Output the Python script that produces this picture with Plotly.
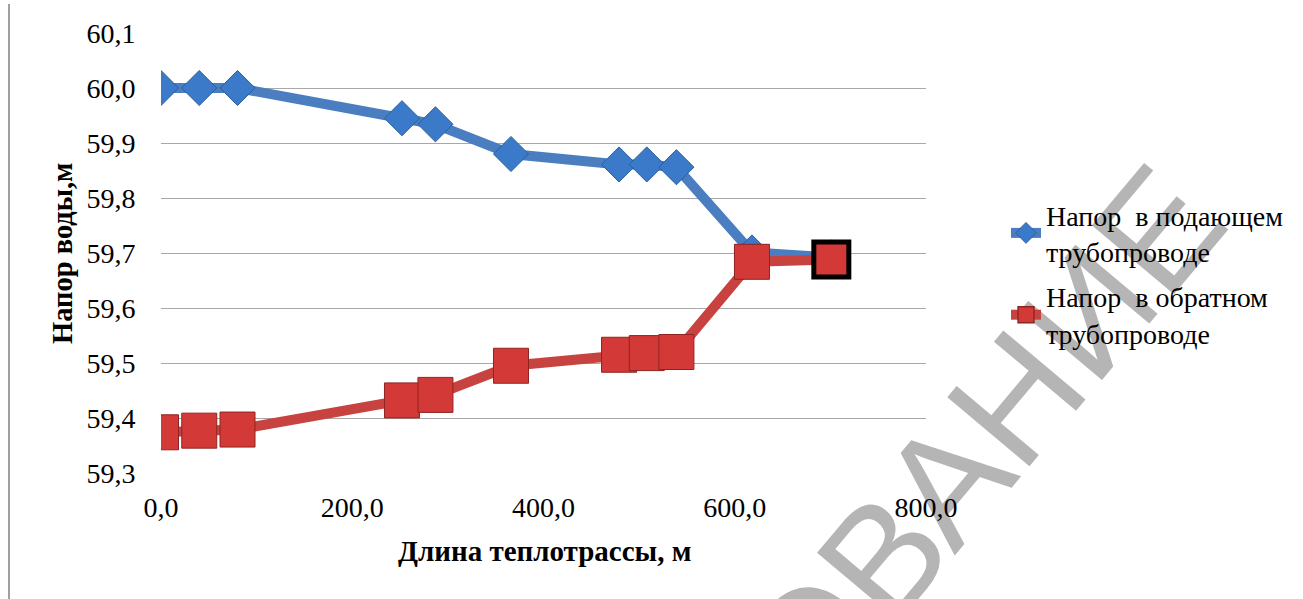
import plotly.graph_objects as go

# Data
length_m = [0, 40, 80, 252, 287, 366, 479, 508, 539, 618, 701]
head_supply = [60.000, 60.000, 60.000, 59.945, 59.934, 59.880, 59.861, 59.861, 59.856, 59.701, 59.692]
head_return = [59.374, 59.377, 59.379, 59.432, 59.442, 59.495, 59.515, 59.518, 59.520, 59.684, 59.688]
x_ticks = [0, 200, 400, 600, 800]
y_ticks = [59.3, 59.4, 59.5, 59.6, 59.7, 59.8, 59.9, 60.0, 60.1]

name_supply = "Напор  в подающем<br>трубопроводе"
name_return = "Напор  в обратном<br>трубопроводе"
x_title = "Длина теплотрассы, м"
y_title = "Напор воды,м"
watermark = "ОВАНИЕ"

W, H = 1303, 599
L, R, T, B = 161, 926, 33, 473
pw, ph = R - L, B - T

def px_x(p):
    return (p - L) / pw

def px_y(p):
    return 1 - (p - T) / ph

serif = "Liberation Serif"

fig = go.Figure()

n = len(length_m)
fig.add_trace(go.Scatter(
    x=length_m, y=head_supply, name=name_supply, mode="lines+markers",
    legendgroup="a",
    line=dict(color="#4A7EC0", width=10),
    marker=dict(symbol="diamond", size=27, color="#3B79C9",
                line=dict(color="#2C5E9E", width=1)),
))
fig.add_trace(go.Scatter(
    x=length_m, y=head_return, name=name_return, mode="lines+markers",
    legendgroup="b",
    line=dict(color="#C84340", width=10),
    marker=dict(symbol="square", size=35, color="#D33A37",
                line=dict(color=["#8E2421"] * (n - 1) + ["#000000"],
                          width=[1] * (n - 1) + [5])),
))

fig.update_layout(
    width=W, height=H,
    margin=dict(l=L, r=W - R, t=T, b=H - B, pad=0, autoexpand=False),
    paper_bgcolor="white",
    plot_bgcolor="rgba(0,0,0,0)",
    separators=", ",
    font=dict(family=serif, size=28, color="black"),
    showlegend=True,
    legend=dict(
        x=px_x(1006), y=px_y(190), xanchor="left", yanchor="top",
        font=dict(family=serif, size=28, color="black"),
        bgcolor="rgba(0,0,0,0)", traceorder="grouped", tracegroupgap=6,
    ),
    xaxis=dict(
        range=[0, 800], tickvals=x_ticks, tickformat=".1f", automargin=False,
        showgrid=False, zeroline=False, showline=False,
        ticks="outside", ticklen=9, tickcolor="rgba(0,0,0,0)",
        tickfont=dict(family=serif, size=28, color="black"),
    ),
    yaxis=dict(
        range=[59.3, 60.1], tickvals=y_ticks, tickformat=".1f", automargin=False,
        showgrid=True, gridcolor="#A8A8A8", gridwidth=1,
        zeroline=False, showline=False,
        ticks="outside", ticklen=19, tickcolor="rgba(0,0,0,0)",
        tickfont=dict(family=serif, size=28, color="black"),
    ),
    annotations=[
        dict(text="<b>" + x_title + "</b>", xref="paper", yref="paper",
             x=px_x(544), y=px_y(551), xanchor="center", yanchor="middle",
             showarrow=False, font=dict(family=serif, size=29, color="black")),
        dict(text="<b>" + y_title + "</b>", xref="paper", yref="paper",
             x=px_x(62), y=px_y(253), xanchor="center", yanchor="middle",
             textangle=-90, showarrow=False,
             font=dict(family=serif, size=28.5, color="black")),
    ],
    shapes=[
        dict(type="line", xref="paper", yref="paper",
             x0=px_x(9), x1=px_x(9), y0=px_y(4), y1=px_y(599),
             line=dict(color="#A0A0A0", width=2), layer="below"),
        dict(type="rect", xref="paper", yref="paper",
             x0=px_x(880), x1=px_x(1060), y0=px_y(340), y1=px_y(520),
             line=dict(width=0), fillcolor="rgba(0,0,0,0)", layer="below",
             label=dict(text=watermark, textangle=-50, textposition="middle center",
                        font=dict(family="Liberation Sans", size=156, color="#B5B5B5"))),
    ],
)

fig.write_html("out.html", config={"displayModeBar": False},
               post_script="document.body.style.margin='0';document.body.style.padding='0';")
